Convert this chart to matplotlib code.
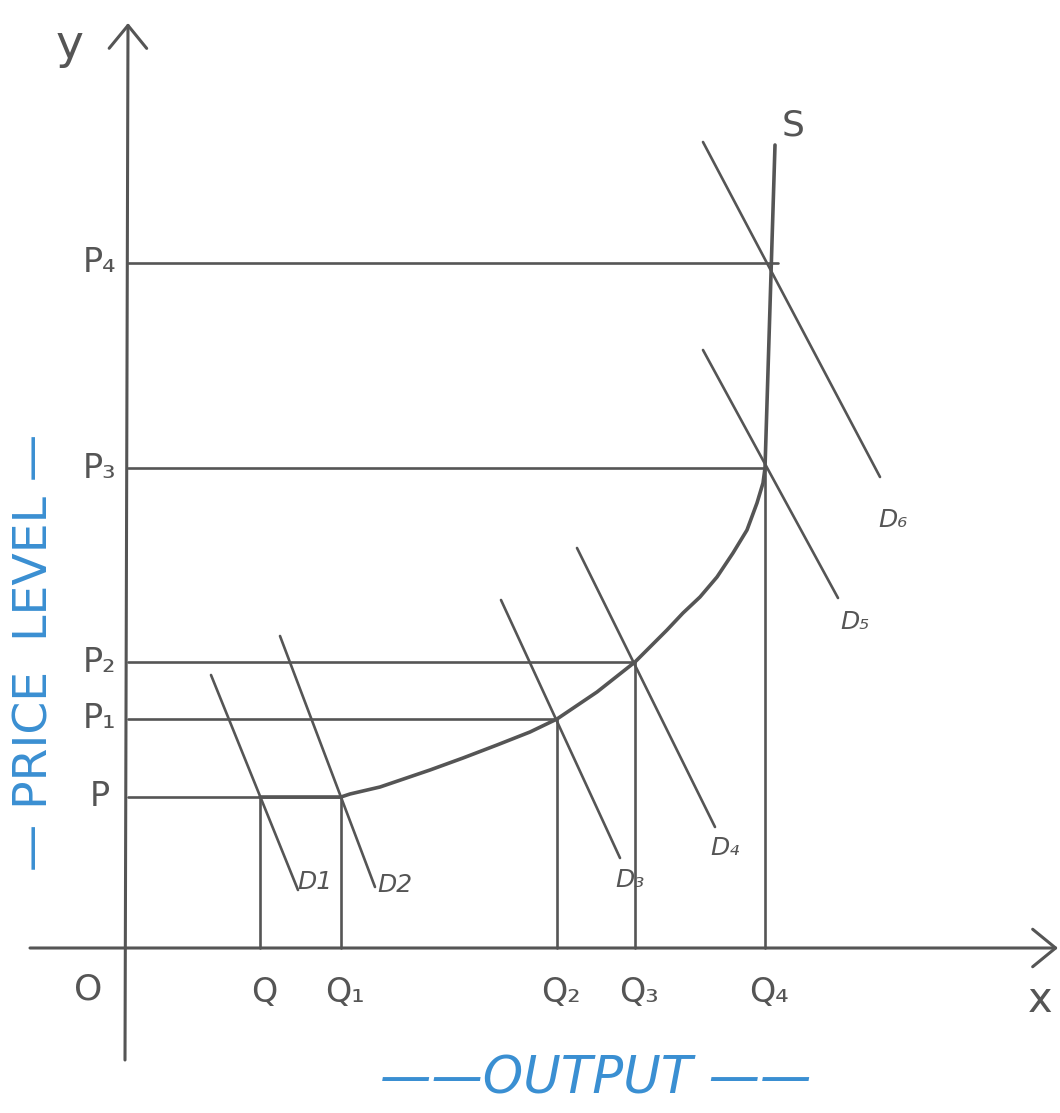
import matplotlib.pyplot as plt
import numpy as np

# Stile generale
plt.rcParams.update({
    'font.family': ['DejaVu Sans'],
    'lines.solid_capstyle': 'round',
    'lines.solid_joinstyle': 'round',
})

line_color = '#555555'
blue = '#3a8fd2'

# Livelli di output (origine in O)
q_labels = ['Q', 'Q₁', 'Q₂', 'Q₃', 'Q₄']
q_values = [132, 213, 429, 507, 637]

# Livelli di prezzo
p_labels = ['P', 'P₁', 'P₂', 'P₃', 'P₄']
p_values = [151, 229, 286, 480, 685]
p_line_end = [213, 429, 507, 637, 650]

# Curva di offerta aggregata (tratto orizzontale + curva + verticale)
supply_x = [132, 213, 222, 252, 302, 335, 369, 402, 429, 469, 507, 522, 539,
            555, 572, 589, 605, 619, 629, 635, 637, 647]
supply_y = [151, 151, 154, 161, 178, 190, 203, 216, 229, 256, 286, 301, 318,
            335, 351, 371, 395, 418, 445, 465, 480, 803]

# Curve di domanda: estremo alto e basso
d_labels = ['D1', 'D2', 'D₃', 'D₄', 'D₅', 'D₆']
d_x_top = [83, 152, 373, 449, 575, 575]
d_y_top = [273, 312, 348, 400, 598, 806]
d_x_bot = [170, 247, 492, 587, 710, 752]
d_y_bot = [58, 61, 90, 121, 350, 471]
d_label_x = [187, 267, 502, 597, 727, 765]
d_label_y = [66, 63, 68, 100, 326, 428]

fig = plt.figure(figsize=(10.6, 11.13), dpi=100)
ax = fig.add_axes([0, 0, 1, 1])
ax.set_xlim(-128, 932)
ax.set_ylim(-165, 948)
ax.axis('off')

# Assi con frecce aperte
arrow = dict(arrowstyle='->,head_length=0.55,head_width=0.45', lw=2.2,
             color=line_color, mutation_scale=30, shrinkA=0, shrinkB=0)
ax.annotate('', xy=(0, 925), xytext=(-3, -112), arrowprops=arrow)
ax.annotate('', xy=(930, 0), xytext=(-98, 0), arrowprops=arrow)

# Linee di prezzo orizzontali
for p, end in zip(p_values, p_line_end):
    ax.plot([0, end], [p, p], color=line_color, lw=1.9)

# Linee verticali dall'asse delle quantità
q_tops = [p_values[0], p_values[0], p_values[1], p_values[2], p_values[3]]
for q, top in zip(q_values, q_tops):
    ax.plot([q, q], [0, top], color=line_color, lw=1.9)

# Curva di offerta
ax.plot(supply_x, supply_y, color=line_color, lw=2.6)

# Curve di domanda
for xt, yt, xb, yb in zip(d_x_top, d_y_top, d_x_bot, d_y_bot):
    ax.plot([xt, xb], [yt, yb], color=line_color, lw=1.9)

# Etichette
txt = dict(color=line_color, ha='center', va='center')
ax.text(-58, 903, 'y', fontsize=34, **txt)
ax.text(912, -52, 'x', fontsize=30, **txt)
ax.text(-40, -42, 'O', fontsize=26, **txt)
ax.text(665, 822, 'S', fontsize=26, **txt)

for lab, p in zip(p_labels, p_values):
    ax.text(-28, p, lab, fontsize=24, **txt)
for lab, q in zip(q_labels, q_values):
    ax.text(q + 4, -44, lab, fontsize=24, **txt)
for lab, x, y in zip(d_labels, d_label_x, d_label_y):
    ax.text(x, y, lab, fontsize=18, style='italic', **txt)

ax.text(-93, 296, '— PRICE  LEVEL —', fontsize=34, rotation=90,
        color=blue, ha='center', va='center')
ax.text(468, -132, '——OUTPUT ——', fontsize=37, style='italic',
        color=blue, ha='center', va='center')

plt.savefig('out.png', dpi=100, facecolor='white')
